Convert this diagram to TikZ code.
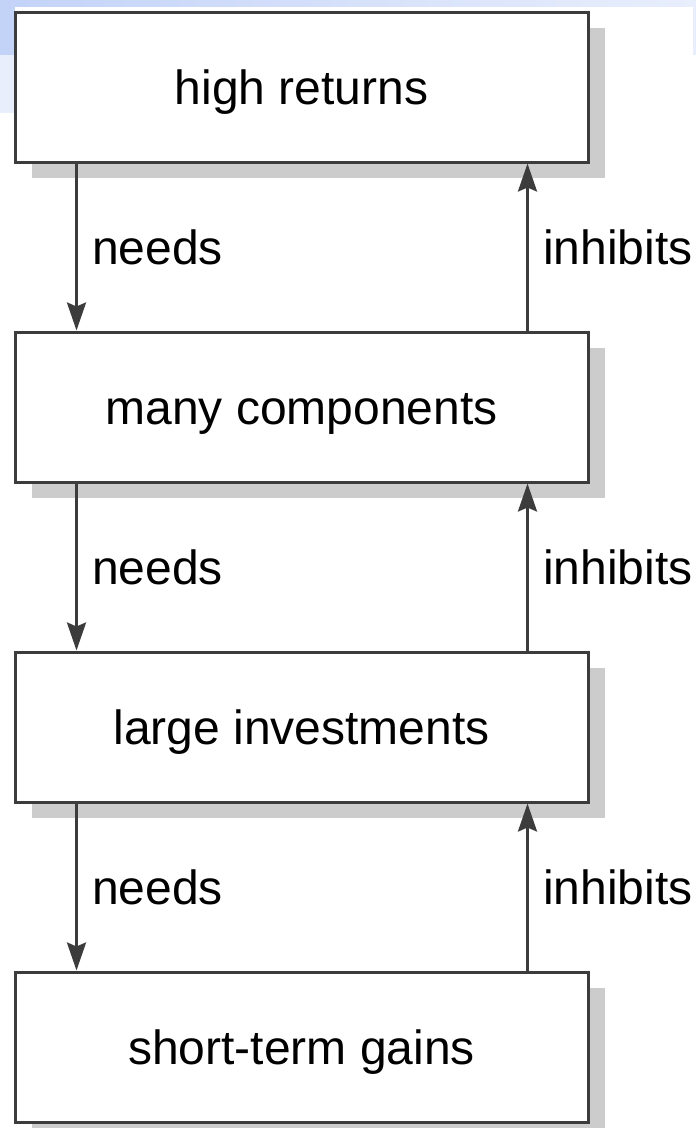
\documentclass[tikz,border=0pt]{standalone}
\usepackage{fontspec}
\setmainfont{Liberation Sans}
\usetikzlibrary{arrows.meta,shadows}

\definecolor{bandblue}{HTML}{C3D3F8}
\definecolor{bandpale}{HTML}{E8EEFC}
\definecolor{linegray}{HTML}{3C3C3C}
\definecolor{shadowgray}{HTML}{CCCCCC}

\tikzset{
  stagebox/.style={draw=linegray, line width=3pt, fill=white,
    minimum width=573pt, minimum height=150pt, inner sep=0pt,
    text height=35pt, text depth=0pt,
    font=\fontsize{48}{58}\selectfont,
    drop shadow={shadow xshift=17pt, shadow yshift=-16pt,
      fill=shadowgray, opacity=1}},
  linkarrow/.style={draw=linegray, line width=3pt,
    -{Stealth[length=28pt,width=19pt,inset=4pt]}},
  linklabel/.style={anchor=west, inner sep=0pt, xshift=14pt,
    font=\fontsize{48}{58}\selectfont}
}

\begin{document}
\begin{tikzpicture}[x=1pt,y=-1pt]
  \useasboundingbox (0,0) rectangle (696,1128);

  % pale blue band behind the top edge
  \fill[left color=bandblue, right color=bandpale] (0,0) rectangle (696,55);
  \fill[left color=bandpale, right color=white] (0,55) rectangle (696,112);
  \fill[white] (15,7) rectangle (693,1128);

  % the four stages, top to bottom
  \node[stagebox] (hr) at (301.5,87)   {high returns};
  \node[stagebox] (mc) at (301.5,407)  {many components};
  \node[stagebox] (li) at (301.5,727)  {large investments};
  \node[stagebox] (sg) at (301.5,1047) {short-term gains};

  % downward "needs" links on the left
  \draw[linkarrow] ([xshift=63pt]hr.south west) -- ([xshift=63pt]mc.north west)
    node[midway, linklabel] {needs};
  \draw[linkarrow] ([xshift=63pt]mc.south west) -- ([xshift=63pt]li.north west)
    node[midway, linklabel] {needs};
  \draw[linkarrow] ([xshift=63pt]li.south west) -- ([xshift=63pt]sg.north west)
    node[midway, linklabel] {needs};

  % upward "inhibits" links on the right
  \draw[linkarrow] ([xshift=-62pt]mc.north east) -- ([xshift=-62pt]hr.south east)
    node[midway, linklabel] {inhibits};
  \draw[linkarrow] ([xshift=-62pt]li.north east) -- ([xshift=-62pt]mc.south east)
    node[midway, linklabel] {inhibits};
  \draw[linkarrow] ([xshift=-62pt]sg.north east) -- ([xshift=-62pt]li.south east)
    node[midway, linklabel] {inhibits};
\end{tikzpicture}
\end{document}
